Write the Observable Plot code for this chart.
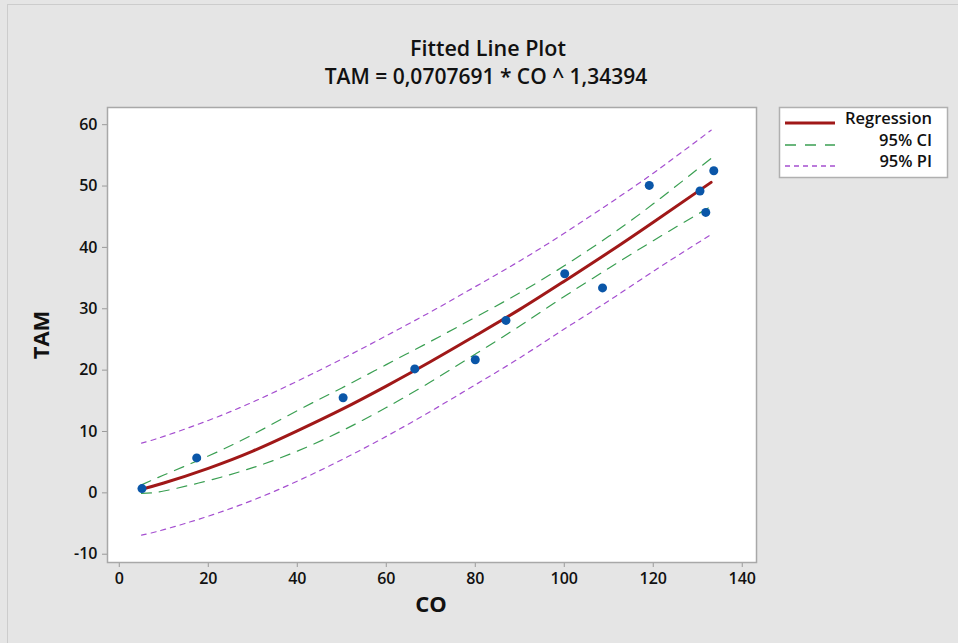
<!DOCTYPE html>
<html>
<head>
<meta charset="utf-8">
<script src="https://cdn.jsdelivr.net/npm/d3@7"></script>
<script src="https://cdn.jsdelivr.net/npm/@observablehq/plot@0.6"></script>
<style>
  html, body { margin: 0; padding: 0; background: #e5e5e5; }
  #chart { width: 958px; height: 643px; }
</style>
</head>
<body>
<div id="chart"></div>
<script>
const coObs  = [5.1, 17.4, 50.3, 66.4, 80.0, 86.9, 100.1, 108.6, 119.1, 130.5, 131.8, 133.6];
const tamObs = [0.7, 5.7, 15.5, 20.2, 21.7, 28.1, 35.7, 33.4, 50.1, 49.2, 45.7, 52.5];

// Fitted line and bands
const coGrid  = [5, 10, 20, 30, 40, 50, 60, 70, 80, 90, 100, 110, 120, 133];
const fitLine = [0.6, 1.6, 4.0, 6.8, 10.1, 13.6, 17.4, 21.4, 25.6, 29.9, 34.5, 39.2, 44.1, 50.6];
const ciUpper = [1.3, 2.9, 6.0, 9.5, 13.4, 17.1, 20.9, 24.7, 28.6, 32.6, 37.0, 41.8, 47.1, 54.5];
const ciLower = [-0.1, 0.3, 2.0, 4.1, 6.8, 10.1, 13.9, 18.1, 22.6, 27.2, 32.0, 36.6, 41.1, 46.7];
const piUpper = [8.1, 9.2, 11.8, 14.8, 18.2, 21.8, 25.6, 29.5, 33.6, 37.8, 42.3, 47.1, 52.1, 59.1];
const piLower = [-6.9, -6.0, -3.8, -1.2, 1.9, 5.4, 9.2, 13.3, 17.6, 22.0, 26.7, 31.3, 36.1, 42.1];

const xTicks = [0, 20, 40, 60, 80, 100, 120, 140];
const yTicks = [-10, 0, 10, 20, 30, 40, 50, 60];

const titleText = "Fitted Line Plot";
const subtitleText = "TAM = 0,0707691 * CO ^ 1,34394";
const xLabel = "CO";
const yLabel = "TAM";
const legendLabels = ["Regression", "95% CI", "95% PI"];

const points = coObs.map((c, i) => ({co: c, tam: tamObs[i]}));
const grid = (arr) => coGrid.map((c, i) => ({co: c, v: arr[i]}));

const FONT = "'Open Sans', 'Noto Sans', sans-serif";
const C_REG = "#a01818", C_CI = "#3a9f52", C_PI = "#a54fd0", C_DOT = "#0a56a8";
const fmt = (d) => String(d); // plain hyphen minus

const chart = Plot.plot({
  width: 958,
  height: 643,
  marginLeft: 107,
  marginRight: 202,
  marginTop: 107,
  marginBottom: 81,
  style: {fontFamily: FONT, fontSize: "16px", color: "#000", background: "transparent", overflow: "visible"},
  x: {domain: [-2.65, 143.2]},
  y: {domain: [-11.35, 62.8]},
  marks: [
    Plot.frame({fill: "white"}),
    Plot.axisX({ticks: xTicks, tickFormat: fmt, tickSize: 5, tickPadding: 5, stroke: "#9a9a9a", label: null, fontSize: 16, fontWeight: 600, fill: "#111"}),
    Plot.axisY({ticks: yTicks, tickFormat: fmt, tickSize: 5, tickPadding: 5, stroke: "#9a9a9a", label: null, fontSize: 16, fontWeight: 600, fill: "#111"}),
    Plot.line(grid(piUpper), {x: "co", y: "v", stroke: C_PI, strokeWidth: 1.2, strokeDasharray: "5,5", curve: "natural"}),
    Plot.line(grid(piLower), {x: "co", y: "v", stroke: C_PI, strokeWidth: 1.2, strokeDasharray: "5,5", curve: "natural"}),
    Plot.line(grid(ciUpper), {x: "co", y: "v", stroke: C_CI, strokeWidth: 1.2, strokeDasharray: "10,8", curve: "natural"}),
    Plot.line(grid(ciLower), {x: "co", y: "v", stroke: C_CI, strokeWidth: 1.2, strokeDasharray: "10,8", curve: "natural"}),
    Plot.line(grid(fitLine), {x: "co", y: "v", stroke: C_REG, strokeWidth: 3, curve: "natural"}),
    Plot.dot(points, {x: "co", y: "tam", r: 4.5, fill: C_DOT, stroke: "none"}),
    Plot.frame({stroke: "#a8a8a8", strokeWidth: 1.5})
  ]
});
document.getElementById("chart").appendChild(chart);

const svg = d3.select(chart);
// outer figure border
svg.insert("rect", ":first-child")
  .attr("x", 7.5).attr("y", 4.5).attr("width", 1000).attr("height", 1000)
  .attr("fill", "none").attr("stroke", "#cccccc");

// titles
svg.append("text").attr("x", 488).attr("y", 50).attr("text-anchor", "middle").attr("dominant-baseline", "middle")
  .style("font-family", FONT).style("font-size", "21.5px").style("font-weight", "600").attr("fill", "#111").text(titleText);
svg.append("text").attr("x", 486).attr("y", 78).attr("text-anchor", "middle").attr("dominant-baseline", "middle")
  .style("font-family", FONT).style("font-size", "21px").style("font-weight", "600").attr("fill", "#111").text(subtitleText);

// axis labels
svg.append("text").attr("x", 431).attr("y", 606).attr("text-anchor", "middle").attr("dominant-baseline", "middle")
  .style("font-family", FONT).style("font-size", "22px").style("font-weight", "bold").attr("fill", "#111").text(xLabel);
svg.append("text").attr("transform", "translate(43,335) rotate(-90)").attr("text-anchor", "middle").attr("dominant-baseline", "middle")
  .style("font-family", FONT).style("font-size", "22px").style("font-weight", "bold").attr("fill", "#111").text(yLabel);

// legend
const lg = svg.append("g");
lg.append("rect").attr("x", 779.5).attr("y", 107.5).attr("width", 168).attr("height", 70)
  .attr("fill", "white").attr("stroke", "#b0b0b0").attr("stroke-width", 1.5);
const styles = [
  {stroke: C_REG, w: 3, dash: null},
  {stroke: C_CI, w: 1.5, dash: "11,9"},
  {stroke: C_PI, w: 1.5, dash: "5,4"}
];
const rowsY = [120, 142, 163];
legendLabels.forEach((lab, i) => {
  lg.append("line").attr("x1", 785).attr("x2", 835).attr("y1", rowsY[i] + 3).attr("y2", rowsY[i] + 3)
    .attr("stroke", styles[i].stroke).attr("stroke-width", styles[i].w)
    .attr("stroke-dasharray", styles[i].dash);
  lg.append("text").attr("x", 932).attr("y", rowsY[i]).attr("text-anchor", "end").attr("dominant-baseline", "middle")
    .style("font-family", FONT).style("font-size", "16.5px").style("font-weight", "600").attr("fill", "#111").text(lab);
});
</script>
</body>
</html>
